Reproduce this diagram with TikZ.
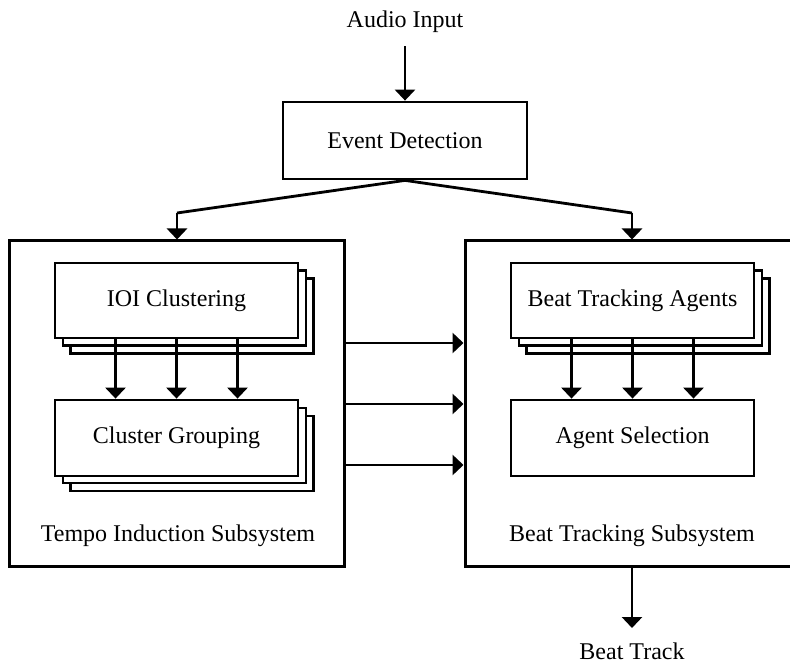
\documentclass[tikz,border=0pt]{standalone}
\usepackage{fontspec}
\setmainfont{Liberation Serif}
\usetikzlibrary{arrows.meta}
\begin{document}
\begin{tikzpicture}[x=1pt,y=-1pt,
  every node/.style={font=\fontsize{24}{28}\selectfont},
  box/.style={draw,line width=2.8pt,fill=white,minimum width=243pt,minimum height=75pt,inner sep=0pt},
  shadowbox/.style={draw,line width=2.6pt,fill=white,minimum width=243pt,minimum height=75pt,inner sep=0pt},
  bigbox/.style={draw,line width=3pt,inner sep=0pt},
  arr/.style={line width=2.8pt,-{Triangle[width=20pt,length=11pt]}},
  conn/.style={line width=2.8pt}]
\useasboundingbox (0,0) rectangle (790,660);
% texts
\node (audio) at (405,22) {Audio Input};
\node (track) at (632,651) {Beat Track};
% event detection
\node[box,minimum width=244pt,minimum height=77pt] (ed) at (405,140.5) {Event Detection};
% big boxes
\node[bigbox,minimum width=335pt,minimum height=325pt] (left) at (176.5,403.5) {};
\node[bigbox,minimum width=335pt,minimum height=325pt] (right) at (632.5,403.5) {};
\node (tlabel) at (178,536) {Tempo Induction Subsystem};
\node (blabel) at (632,536) {Beat Tracking Subsystem};
% IOI clustering stack
\node[shadowbox] (ioi3) at (192,316) {};
\node[shadowbox] (ioi2) at (184.5,308) {};
\node[box] (ioi) at (176.5,300.5) {IOI Clustering};
% cluster grouping stack
\node[shadowbox] (cg3) at (192,453.5) {};
\node[shadowbox] (cg2) at (184.5,445.5) {};
\node[box,minimum height=76pt] (cg) at (176.5,438) {Cluster Grouping};
% beat tracking agents stack
\node[shadowbox] (bta3) at (648,316) {};
\node[shadowbox] (bta2) at (640.5,308) {};
\node[box] (bta) at (632.5,300.5) {Beat Tracking Agents};
% agent selection
\node[box,minimum height=76pt] (as) at (632.5,438) {Agent Selection};
% connectors
\draw[arr] ([yshift=-10pt]audio.south) -- (ed.north);
\coordinate (bl) at (177,213);
\coordinate (br) at (632,213);
\draw[conn] (bl) -- (ed.south) -- (br);
\draw[arr] (bl) -- (left.north -| bl);
\draw[arr] (br) -- (right.north -| br);
\foreach \dx in {-61,0,61}{
  \draw[arr] ([xshift=\dx pt]ioi.south) -- ([xshift=\dx pt]cg.north);
  \draw[arr] ([xshift=\dx pt]bta.south) -- ([xshift=\dx pt]as.north);
}
\coordinate (h1) at (0,343);
\coordinate (h2) at (0,404);
\coordinate (h3) at (0,465);
\foreach \h in {h1,h2,h3}{
  \draw[arr] (left.east |- \h) -- (right.west |- \h);
}
\coordinate (tk) at (632,628);
\draw[arr] (right.south -| tk) -- (tk);
\end{tikzpicture}
\end{document}
